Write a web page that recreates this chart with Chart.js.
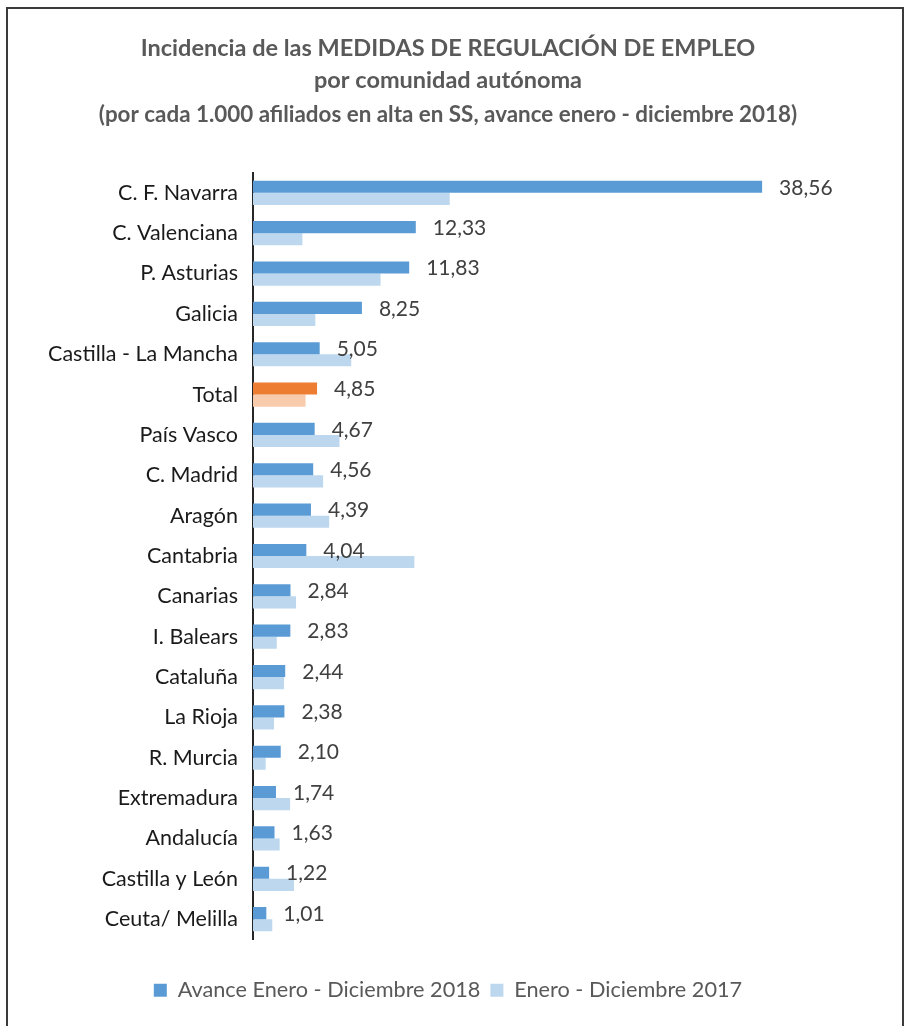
<!DOCTYPE html>
<html>
<head>
<meta charset="utf-8">
<script src="https://cdn.jsdelivr.net/npm/chart.js@4.4.1/dist/chart.umd.min.js"></script>
<style>
  html, body { margin: 0; padding: 0; background: #fff; overflow: hidden; }
  #wrap { position: relative; width: 906px; height: 1026px; }
  #frame { position: absolute; left: 6px; top: 7px; width: 894px; height: 1040px;
           border: 2px solid #3a3a3a; pointer-events: none; }
</style>
</head>
<body>
<div id="wrap">
  <canvas id="chart"></canvas>
  <div id="frame"></div>
</div>
<script>
// categories top to bottom
const regions = ['C. F. Navarra', 'C. Valenciana', 'P. Asturias', 'Galicia', 'Castilla - La Mancha',
  'Total', 'País Vasco', 'C. Madrid', 'Aragón', 'Cantabria', 'Canarias', 'I. Balears',
  'Cataluña', 'La Rioja', 'R. Murcia', 'Extremadura', 'Andalucía', 'Castilla y León', 'Ceuta/ Melilla'];

// Avance Enero - Diciembre 2018 (labelled values)
const values2018 = [38.56, 12.33, 11.83, 8.25, 5.05, 4.85, 4.67, 4.56, 4.39, 4.04,
  2.84, 2.83, 2.44, 2.38, 2.10, 1.74, 1.63, 1.22, 1.01];

// Enero - Diciembre 2017
const values2017 = [14.9, 3.74, 9.66, 4.72, 7.44, 3.98, 6.55, 5.31, 5.77, 12.22,
  3.26, 1.80, 2.35, 1.59, 0.96, 2.81, 2.02, 3.11, 1.46];

const totalIndex = regions.indexOf('Total');

// draw the value next to each 2018 bar
const valueLabels = {
  id: 'valueLabels',
  afterDatasetsDraw(chart) {
    const ctx = chart.ctx;
    const meta = chart.getDatasetMeta(0);
    ctx.save();
    ctx.font = '21px Lato';
    ctx.fillStyle = '#404040';
    ctx.textAlign = 'left';
    ctx.textBaseline = 'middle';
    meta.data.forEach((bar, i) => {
      const txt = values2018[i].toFixed(2).replace('.', ',');
      ctx.fillText(txt, bar.x + 17, bar.y + 1);
    });
    ctx.restore();
  }
};

new Chart(document.getElementById('chart'), {
  type: 'bar',
  data: {
    labels: regions,
    datasets: [
      {
        label: 'Avance Enero - Diciembre 2018',
        data: values2018,
        backgroundColor: c => c.dataIndex === totalIndex ? '#ED7D31' : '#5B9BD5'
      },
      {
        label: 'Enero - Diciembre 2017',
        data: values2017,
        backgroundColor: c => c.dataIndex === totalIndex ? '#F8CBAD' : '#BDD7EE'
      }
    ]
  },
  options: {
    indexAxis: 'y',
    responsive: true,
    maintainAspectRatio: false,
    animation: false,
    devicePixelRatio: 1,
    categoryPercentage: 0.6,
    barPercentage: 1.0,
    layout: { padding: { top: 0, right: 10, bottom: 15, left: 0 } },
    scales: {
      x: {
        min: 0,
        max: 48.7,
        ticks: { display: false },
        grid: { display: false },
        border: { display: false },
        afterFit(s) { s.height = 30; }
      },
      y: {
        grid: { display: false, drawTicks: false },
        border: { display: true, color: '#262626', width: 2 },
        ticks: { font: { family: 'Lato', size: 21.5 }, color: '#1a1a1a', padding: 15 },
        afterFit(s) { s.width = 253; }
      }
    },
    plugins: {
      title: {
        display: true,
        text: ['Incidencia de las MEDIDAS DE REGULACIÓN DE EMPLEO', 'por comunidad autónoma'],
        color: '#595959',
        font: { family: 'Lato', size: 23.5, weight: 'bold', lineHeight: 1.4 },
        padding: { top: 31.5, bottom: 0 }
      },
      subtitle: {
        display: true,
        text: '(por cada 1.000 afiliados en alta en SS, avance enero - diciembre 2018)',
        color: '#595959',
        font: { family: 'Lato', size: 22.4, weight: 'bold', lineHeight: 1.2 },
        padding: { top: 4.5, bottom: 44 }
      },
      legend: {
        position: 'bottom',
        labels: {
          color: '#595959',
          font: { family: 'Lato', size: 21.7 },
          boxWidth: 13,
          boxHeight: 13,
          padding: 10
        }
      },
      tooltip: { enabled: false }
    }
  },
  plugins: [valueLabels]
});
</script>
</body>
</html>
